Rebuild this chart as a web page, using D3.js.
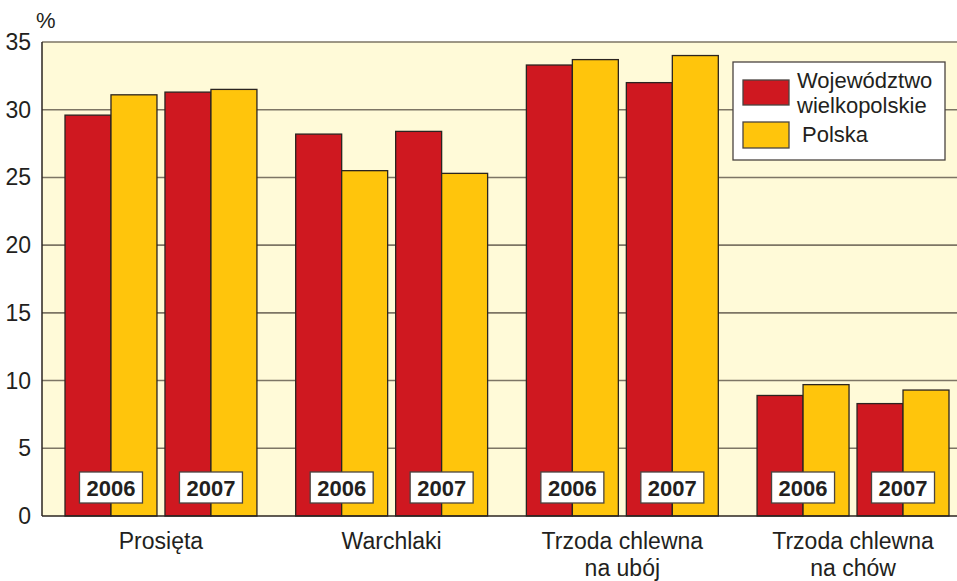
<!DOCTYPE html>
<html>
<head>
<meta charset="utf-8">
<script src="https://cdn.jsdelivr.net/npm/d3@7"></script>
<style>
  body { margin: 0; background: #fff; }
  svg text { font-family: "Liberation Sans", Arial, Helvetica, sans-serif; fill: #231f20; }
</style>
</head>
<body>
<script>
// categories, years and series
const categories = [["Prosięta"], ["Warchlaki"], ["Trzoda chlewna", "na ubój"], ["Trzoda chlewna", "na chów"]];
const years = ["2006", "2007"];
const series = ["Województwo wielkopolskie", "Polska"];
// values per category, per year: [wielkopolskie, Polska]
const wielkopolskie = [[29.6, 31.3], [28.2, 28.4], [33.3, 32.0], [8.9, 8.3]];
const polska = [[31.1, 31.5], [25.5, 25.3], [33.7, 34.0], [9.7, 9.3]];
const yTicks = [0, 5, 10, 15, 20, 25, 30, 35];

const width = 957, height = 581;
const margin = {top: 42, right: 0, bottom: 65, left: 42};
const colors = ["#cf1820", "#ffc50c"];

const svg = d3.select("body").append("svg")
    .attr("width", width)
    .attr("height", height);

const y = d3.scaleLinear().domain([0, 35]).range([height - margin.bottom, margin.top]);

const x0 = d3.scaleBand()
    .domain(d3.range(categories.length))
    .range([65, 949])
    .paddingInner(0.168)
    .paddingOuter(0);

const x1 = d3.scaleBand()
    .domain(years)
    .range([0, x0.bandwidth()])
    .paddingInner(0.08)
    .paddingOuter(0);

const x2 = d3.scaleBand()
    .domain(series)
    .range([0, x1.bandwidth()]);

// plot background
svg.append("rect")
    .attr("x", margin.left)
    .attr("y", margin.top)
    .attr("width", width - margin.left - margin.right)
    .attr("height", y(0) - margin.top)
    .attr("fill", "#fffad8");

// gridlines
svg.append("g")
    .selectAll("line")
    .data(yTicks.filter(d => d > 0))
    .join("line")
    .attr("x1", margin.left)
    .attr("x2", width)
    .attr("y1", d => y(d))
    .attr("y2", d => y(d))
    .attr("stroke", "#7d7565")
    .attr("stroke-width", 1.6);

// y labels
svg.append("g")
    .selectAll("text")
    .data(yTicks)
    .join("text")
    .attr("x", 31)
    .attr("y", d => y(d) + 8)
    .attr("text-anchor", "end")
    .attr("font-size", 23)
    .text(d => d);

svg.append("text")
    .attr("x", 36)
    .attr("y", 28)
    .attr("font-size", 22)
    .text("%");

// bars
const rows = [];
categories.forEach((c, i) => {
  years.forEach((yr, j) => {
    rows.push({cat: i, year: yr, s: series[0], v: wielkopolskie[i][j], color: colors[0]});
    rows.push({cat: i, year: yr, s: series[1], v: polska[i][j], color: colors[1]});
  });
});

svg.append("g")
    .selectAll("rect")
    .data(rows)
    .join("rect")
    .attr("x", d => x0(d.cat) + x1(d.year) + x2(d.s))
    .attr("y", d => y(d.v))
    .attr("width", x2.bandwidth())
    .attr("height", d => y(0) - y(d.v))
    .attr("fill", d => d.color)
    .attr("stroke", "#2b2420")
    .attr("stroke-width", 1.3);

// axis lines
svg.append("line")
    .attr("x1", margin.left).attr("x2", margin.left)
    .attr("y1", margin.top).attr("y2", y(0))
    .attr("stroke", "#2b2420").attr("stroke-width", 1.5);
svg.append("line")
    .attr("x1", margin.left).attr("x2", width)
    .attr("y1", y(0)).attr("y2", y(0))
    .attr("stroke", "#2b2420").attr("stroke-width", 1.5);

// year boxes
const yearLabels = [];
categories.forEach((c, i) => years.forEach(yr => yearLabels.push({cat: i, year: yr})));
const yl = svg.append("g")
    .selectAll("g")
    .data(yearLabels)
    .join("g")
    .attr("transform", d => `translate(${x0(d.cat) + x1(d.year) + x2.bandwidth()},${y(0) - 28.5})`);
yl.append("rect")
    .attr("x", -31.5).attr("y", -15.5)
    .attr("width", 63).attr("height", 31)
    .attr("fill", "#fff")
    .attr("stroke", "#4a4440")
    .attr("stroke-width", 1.3);
yl.append("text")
    .attr("text-anchor", "middle")
    .attr("y", 8)
    .attr("font-size", 22)
    .attr("font-weight", "bold")
    .text(d => d.year);

// category labels
svg.append("g")
    .selectAll("text")
    .data(categories)
    .join("text")
    .attr("text-anchor", "middle")
    .attr("font-size", 23)
    .attr("x", (d, i) => x0(i) + x0.bandwidth() / 2)
    .attr("y", 549)
    .selectAll("tspan")
    .data(d => d)
    .join("tspan")
    .attr("x", function() { return this.parentNode.getAttribute("x"); })
    .attr("dy", (d, i) => i === 0 ? 0 : 27)
    .text(d => d);

// legend
const legend = svg.append("g").attr("transform", "translate(733,62)");
legend.append("rect")
    .attr("width", 212).attr("height", 98)
    .attr("fill", "#fff")
    .attr("stroke", "#4a4440")
    .attr("stroke-width", 1.3);
legend.append("rect")
    .attr("x", 10).attr("y", 18).attr("width", 46).attr("height", 25)
    .attr("fill", colors[0]).attr("stroke", "#4a4440").attr("stroke-width", 1.3);
legend.append("rect")
    .attr("x", 10).attr("y", 60).attr("width", 46).attr("height", 26)
    .attr("fill", colors[1]).attr("stroke", "#4a4440").attr("stroke-width", 1.3);
legend.append("text").attr("x", 64).attr("y", 26).attr("font-size", 22).text("Województwo");
legend.append("text").attr("x", 64).attr("y", 51).attr("font-size", 22).text("wielkopolskie");
legend.append("text").attr("x", 69).attr("y", 80).attr("font-size", 22).text("Polska");
</script>
</body>
</html>
